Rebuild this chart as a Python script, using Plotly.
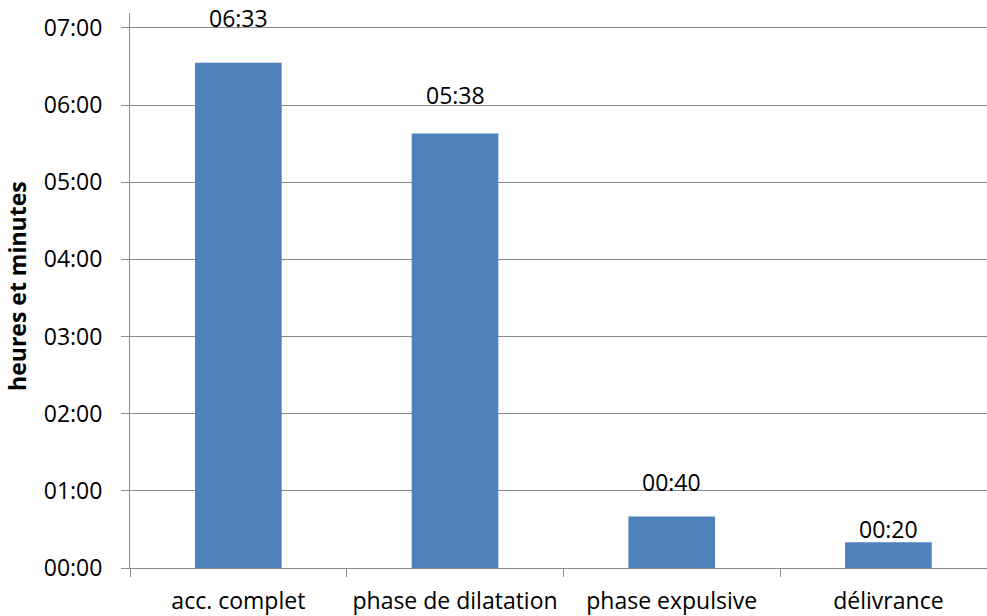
import plotly.graph_objects as go

# Durées moyennes par phase, en minutes
categories = ["acc. complet", "phase de dilatation", "phase expulsive", "délivrance"]
durations_min = [393, 338, 40, 20]
tick_hours = [0, 1, 2, 3, 4, 5, 6, 7]

# Décalage vertical (px) des étiquettes de valeur au-dessus des barres
label_offsets = [27, 20, 17, -5]

def hhmm(minutes):
    return f"{minutes // 60:02d}:{minutes % 60:02d}"

hours = [m / 60 for m in durations_min]
labels = [hhmm(m) for m in durations_min]
tick_text = [hhmm(h * 60) for h in tick_hours]

FONT = "Open Sans"
SIZE = 23
GRID = "#8a8a8a"

fig = go.Figure(
    go.Bar(
        x=categories,
        y=hours,
        width=0.4,
        marker=dict(color="#4F81BD", line=dict(width=0)),
        hoverinfo="skip",
    )
)

for cat, h, lab, off in zip(categories, hours, labels, label_offsets):
    fig.add_annotation(
        x=cat, y=h, text=lab, showarrow=False,
        yanchor="bottom", yshift=off,
        font=dict(family=FONT, size=SIZE, color="#000000"),
    )

fig.add_annotation(
    xref="paper", yref="paper", x=-0.132, y=0.508,
    text="<b>heures et minutes</b>", textangle=-90, showarrow=False,
    xanchor="center", yanchor="middle",
    font=dict(family=FONT, size=SIZE, color="#000000"),
)

fig.update_layout(
    width=987, height=616,
    margin=dict(l=130, r=0, t=13, b=46),
    paper_bgcolor="white", plot_bgcolor="white",
    showlegend=False,
    font=dict(family=FONT, size=SIZE, color="#000000"),
    xaxis=dict(
        type="category",
        range=[-0.5, 3.455],
        tickson="boundaries",
        ticks="outside", ticklen=8, tickcolor=GRID, tickwidth=1,
        ticklabelstandoff=12,
        showline=True, linecolor=GRID, linewidth=1,
        showgrid=False,
        tickfont=dict(family=FONT, size=SIZE, color="#000000"),
    ),
    yaxis=dict(
        range=[0, 7.194],
        tickvals=tick_hours, ticktext=tick_text,
        ticks="outside", ticklen=8, tickcolor=GRID, tickwidth=1,
        ticklabelstandoff=14,
        showline=True, linecolor=GRID, linewidth=1,
        showgrid=True, gridcolor=GRID, gridwidth=1,
        zeroline=False,
        tickfont=dict(family=FONT, size=SIZE, color="#000000"),
    ),
)

fig.write_html("out.html")
